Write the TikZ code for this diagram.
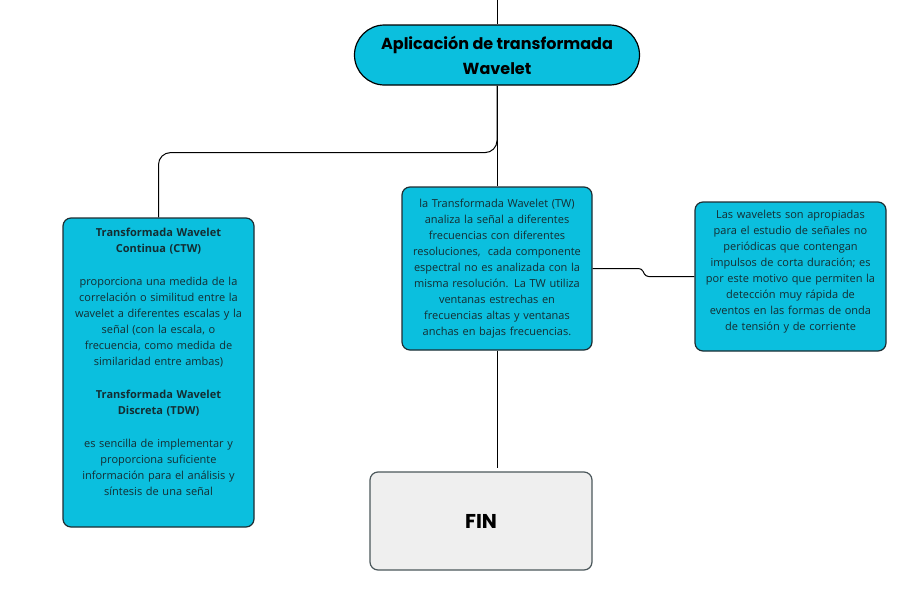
\documentclass[tikz,border=0pt]{standalone}
\usepackage{fontspec}
\setmainfont{Open Sans}
\newfontfamily\titlefont{Poppins}
\definecolor{waveblue}{RGB}{11,191,222}
\definecolor{finfill}{RGB}{239,239,239}
\definecolor{boxline}{RGB}{30,45,50}
\definecolor{bodytext}{RGB}{20,45,50}
\tikzset{
  infobox/.style={draw=boxline, line width=1.2pt, fill=waveblue, rounded corners=8pt,
    align=center, text=bodytext, font=\fontsize{11}{16}\selectfont, inner sep=2pt},
  link/.style={draw=black, line width=1pt},
}
\begin{document}
\begin{tikzpicture}[x=1pt,y=-1pt]
\useasboundingbox (0,0) rectangle (904,589);
% TITLE
\node [draw=black, line width=1.2pt, fill=waveblue, rounded corners=30pt,
  minimum width=285pt, minimum height=60pt, align=center,
  font=\titlefont\bfseries\fontsize{16}{25}\selectfont] (title) at (497,55)
  {Aplicación de transformada\\Wavelet};
\coordinate (top) at (497,0);
% BOXES
\node [infobox, minimum width=191pt, minimum height=309pt, text width=187pt] (ctw) at (158.5,372.5)
  {\textbf{Transformada Wavelet}\\\textbf{Continua (CTW)}\\[17pt]
   proporciona una medida de la\\correlación o similitud entre la\\wavelet a diferentes escalas y la\\
   señal (con la escala, o\\frecuencia, como medida de\\similaridad entre ambas)\\[17pt]
   \textbf{Transformada Wavelet}\\\textbf{Discreta (TDW)}\\[17pt]
   es sencilla de implementar y\\proporciona suficiente\\información para el análisis y\\
   síntesis de una señal\\[6pt]\mbox{}};
\node [infobox, minimum width=190pt, minimum height=163pt, text width=186pt] (tw) at (497,268.5)
  {la Transformada Wavelet (TW)\\analiza la señal a diferentes\\frecuencias con diferentes\\
   resoluciones,\ \ cada componente\\espectral no es analizada con la\\misma resolución. La TW utiliza\\
   ventanas estrechas en\\frecuencias altas y ventanas\\anchas en bajas frecuencias.};
\node [infobox, minimum width=191pt, minimum height=149pt, text width=187pt] (uso) at (790.5,276.5)
  {Las wavelets son apropiadas\\para el estudio de señales no\\periódicas que contengan\\
   impulsos de corta duración; es\\por este motivo que permiten la\\detección muy rápida de\\
   eventos en las formas de onda\\de tensión y de corriente\\[-4pt]\mbox{}};
\node [draw=boxline!80, line width=1.2pt, fill=finfill, rounded corners=8pt,
  minimum width=222pt, minimum height=98pt,
  font=\titlefont\bfseries\fontsize{20}{24}\selectfont] (fin) at (481,521) {FIN};
\coordinate (finend) at (497,468);
% CONNECTORS
\draw [link] (top) -- (title.north);
\draw [link] (title.south) -- (tw.north);
\draw [link, rounded corners=12pt] (title.south) -- ++(0,67) -| (ctw.north);
\draw [link] (tw.south) -- (finend);
\draw [link, rounded corners=3pt] (tw.east) -- ++(49,0) -- ++(4,8) -- (uso.west);
\end{tikzpicture}
\end{document}
